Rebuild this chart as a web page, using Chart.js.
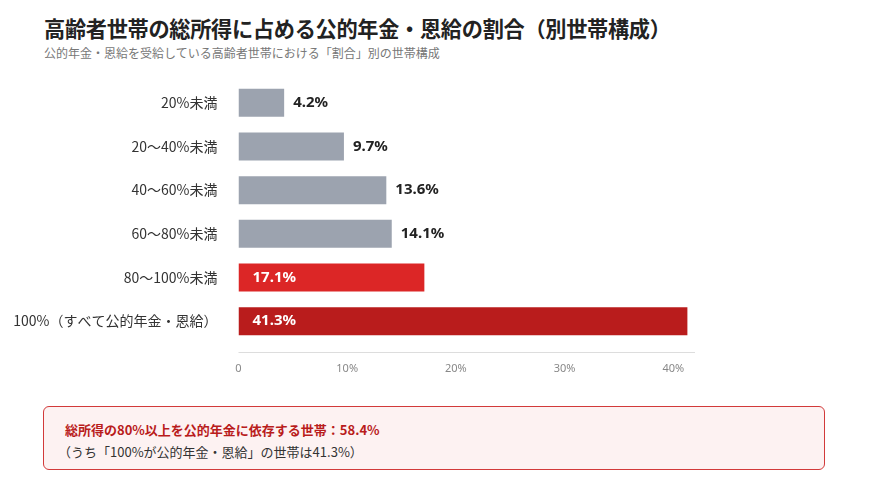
<!DOCTYPE html>
<html lang="ja">
<head>
<meta charset="utf-8">
<script src="https://cdn.jsdelivr.net/npm/chart.js@4.4.1/dist/chart.umd.min.js"></script>
<style>
  body { margin: 0; width: 870px; height: 500px; background: #fff; position: relative; overflow: hidden;
    font-family: "Noto Sans CJK JP", "Noto Sans", sans-serif; }
  h1 { position: absolute; left: 44px; top: 12px; margin: 0; font-size: 21.2px; font-weight: bold; color: #222; letter-spacing: -0.3px; }
  .sub { position: absolute; left: 44px; top: 44px; margin: 0; font-size: 12px; color: #777; }
  #wrap { position: absolute; left: 0; top: 70px; width: 870px; height: 310px; }
  .note { position: absolute; left: 43px; top: 406px; width: 782px; height: 64px; box-sizing: border-box;
    border: 1.5px solid #d23a3a; border-radius: 6px; background: #fdf2f2; padding: 12px 0 0 21px; }
  .note .l1 { font-size: 13px; font-weight: bold; color: #b91c1c; line-height: 22px; }
  .note .l2 { font-size: 13px; color: #333; line-height: 22px; margin-left: -7px; }
</style>
</head>
<body>
<h1>高齢者世帯の総所得に占める公的年金・恩給の割合（別世帯構成）</h1>
<p class="sub">公的年金・恩給を受給している高齢者世帯における「割合」別の世帯構成</p>
<div id="wrap"><canvas id="chart"></canvas></div>
<div class="note">
  <div class="l1">総所得の80%以上を公的年金に依存する世帯：58.4%</div>
  <div class="l2">（うち「100%が公的年金・恩給」の世帯は41.3%）</div>
</div>
<script>
const categories = ["20%未満", "20～40%未満", "40～60%未満", "60～80%未満", "80～100%未満", "100%（すべて公的年金・恩給）"];
const shares = [4.2, 9.7, 13.6, 14.1, 17.1, 41.3];
const barColors = ["#9ca3af", "#9ca3af", "#9ca3af", "#9ca3af", "#dc2626", "#b91c1c"];
const insideLabel = [false, false, false, false, true, true];
const xTicks = [0, 10, 20, 30, 40];

// value labels + bottom axis line slightly below the bars
const barLabels = {
  id: "barLabels",
  afterDatasetsDraw(chart) {
    const ctx = chart.ctx;
    const meta = chart.getDatasetMeta(0);
    ctx.save();
    ctx.font = "bold 15px 'Noto Sans', 'Noto Sans CJK JP', sans-serif";
    ctx.textBaseline = "middle";
    meta.data.forEach(function (bar, i) {
      let text = shares[i].toFixed(1) + "%";
      if (insideLabel[i]) {
        ctx.fillStyle = "#fff";
        ctx.fillText(text, bar.base + 14, bar.y);
      } else {
        ctx.fillStyle = "#222";
        ctx.fillText(text, bar.x + 9, bar.y);
      }
    });
    let x = chart.scales.x;
    ctx.strokeStyle = "#dddddd";
    ctx.lineWidth = 1;
    ctx.beginPath();
    ctx.moveTo(x.left, chart.chartArea.bottom + 9.5);
    ctx.lineTo(x.right, chart.chartArea.bottom + 9.5);
    ctx.stroke();
    ctx.restore();
  },
};

new Chart(document.getElementById("chart"), {
  type: "bar",
  data: {
    labels: categories,
    datasets: [{
      data: shares,
      backgroundColor: barColors,
      borderWidth: 0,
      barPercentage: 0.64,
      categoryPercentage: 1,
    }],
  },
  options: {
    indexAxis: "y",
    responsive: true,
    maintainAspectRatio: false,
    animation: false,
    layout: { padding: { top: 11, right: 175, left: 0, bottom: 0 } },
    plugins: { legend: { display: false }, tooltip: { enabled: false } },
    scales: {
      x: {
        min: 0,
        max: 42,
        afterBuildTicks: function (scale) {
          scale.ticks = xTicks.map(function (v) { return { value: v }; });
        },
        afterFit: function (scale) { scale.height = 37; },
        grid: { display: false, drawTicks: false },
        border: { display: false },
        ticks: {
          padding: 19,
          color: "#888",
          font: { size: 11, family: "'Noto Sans', sans-serif" },
          callback: function (v) { return v === 0 ? "0" : v + "%"; },
        },
      },
      y: {
        afterFit: function (scale) {
          scale.width = 238.5;
          scale.paddingTop = 0;
          scale.paddingBottom = 0;
        },
        grid: { display: false, drawTicks: false },
        border: { display: false },
        ticks: {
          padding: 21,
          color: "#333",
          font: { size: 14, family: "'Noto Sans CJK JP', sans-serif" },
        },
      },
    },
  },
  plugins: [barLabels],
});
</script>
</body>
</html>
